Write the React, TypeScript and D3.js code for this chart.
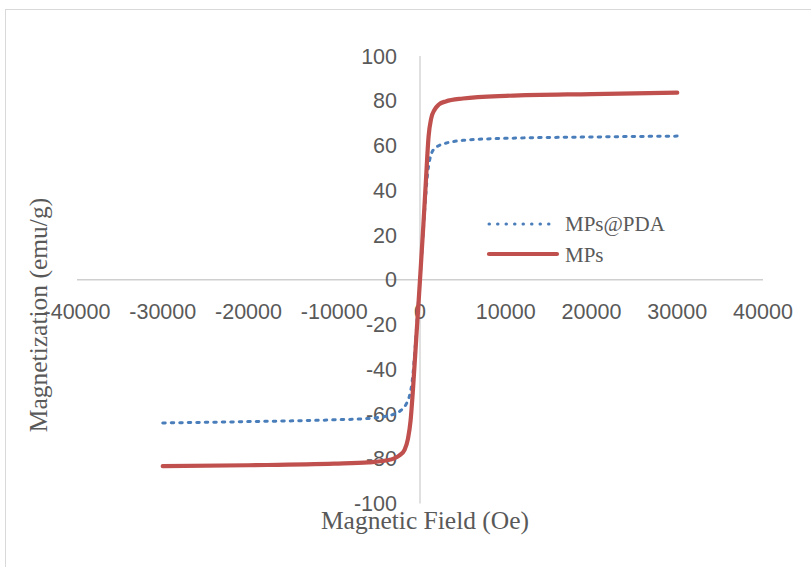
import React from "react";
import * as d3 from "d3";

// Hysteresis loops: field (Oe) vs magnetization (emu/g)
const mpsField = [-30000, -20000, -10000, -6000, -4000, -3000, -2400, -1800, -1400, -1100, -800, -400, 0, 400, 700, 1000, 1300, 1700, 2200, 3000, 5000, 10000, 20000, 30000];
const mpsValues = [-83.3, -82.9, -82.2, -81.6, -80.8, -79.8, -78.5, -76, -71, -63, -48, -24, 0, 25, 45, 64, 72, 76, 78.3, 79.7, 81, 82.2, 83, 83.6];

const pdaField = [-30000, -20000, -10000, -6000, -4000, -3000, -2200, -1600, -1200, -900, -600, -300, 0, 300, 600, 900, 1100, 1400, 2000, 3000, 5000, 10000, 20000, 30000];
const pdaValues = [-64, -63.4, -62.6, -62, -61, -60, -58.3, -55.5, -51.5, -45, -32, -16, 0, 17, 34, 48, 53, 57, 59.5, 61, 62.3, 63.2, 63.8, 64.2];

const xTicks = [-40000, -30000, -20000, -10000, 0, 10000, 20000, 30000, 40000];
const yTicks = [-100, -80, -60, -40, -20, 0, 20, 40, 60, 80, 100];

const seriesNames = ["MPs@PDA", "MPs"];

const W = 811;
const H = 567;

export default function App() {
  const x = d3.scaleLinear().domain([-40000, 40000]).range([77, 763]);
  const y = d3.scaleLinear().domain([-100, 100]).range([503.5, 56]);

  const line = d3
    .line<[number, number]>()
    .x((d) => x(d[0]))
    .y((d) => y(d[1]))
    .curve(d3.curveMonotoneX);

  const mpsPts = mpsField.map((f, i) => [f, mpsValues[i]] as [number, number]);
  const pdaPts = pdaField.map((f, i) => [f, pdaValues[i]] as [number, number]);

  const grey = "#595959";
  const axisGrey = "#cfcfcf";
  const red = "#c0504d";
  const blue = "#4a7ebb";
  const sans = "'Liberation Sans', Arial, sans-serif";
  const serif = "'Liberation Serif', 'Times New Roman', serif";

  return (
    <svg
      width={W}
      height={H}
      style={{ position: "absolute", left: 0, top: 0, background: "#fff" }}
    >
      <rect x={5.5} y={9.5} width={1000} height={800} fill="#fff" stroke="#d9d9d9" strokeWidth={1} />

      {/* axes crossing at the origin */}
      <line x1={x(-40000)} x2={x(40000)} y1={y(0)} y2={y(0)} stroke={axisGrey} strokeWidth={1.3} />
      <line x1={x(0)} x2={x(0)} y1={y(100)} y2={y(-100)} stroke={axisGrey} strokeWidth={1.3} />

      {/* y tick labels */}
      {yTicks.map((t) => (
        <text
          key={"y" + t}
          x={397}
          y={y(t)}
          dy="0.36em"
          textAnchor="end"
          fontFamily={sans}
          fontSize={21.5}
          fill={grey}
        >
          {t}
        </text>
      ))}

      {/* x tick labels */}
      {xTicks.map((t) => (
        <text
          key={"x" + t}
          x={x(t)}
          y={319}
          textAnchor="middle"
          fontFamily={sans}
          fontSize={21.5}
          fill={grey}
        >
          {t}
        </text>
      ))}

      {/* series */}
      <path
        d={line(pdaPts) || ""}
        fill="none"
        stroke={blue}
        strokeWidth={3}
        strokeDasharray="2.5 6"
        strokeLinecap="round"
      />
      <path
        d={line(mpsPts) || ""}
        fill="none"
        stroke={red}
        strokeWidth={4.2}
        strokeLinecap="round"
        strokeLinejoin="round"
      />

      {/* axis titles */}
      <text x={425} y={529} textAnchor="middle" fontFamily={serif} fontSize={25.5} fill={grey}>
        Magnetic Field (Oe)
      </text>
      <text
        transform="translate(47,315) rotate(-90)"
        textAnchor="middle"
        fontFamily={serif}
        fontSize={25.5}
        fill={grey}
      >
        Magnetization (emu/g)
      </text>

      {/* legend */}
      <g>
        <line x1={489} x2={557} y1={224} y2={224} stroke={blue} strokeWidth={3} strokeDasharray="0.5 8" strokeLinecap="round" />
        <text x={565} y={231} fontFamily={serif} fontSize={21} fill={grey}>
          {seriesNames[0]}
        </text>
        <line x1={489} x2={557} y1={254} y2={254} stroke={red} strokeWidth={4.2} strokeLinecap="round" />
        <text x={565} y={262} fontFamily={serif} fontSize={21} fill={grey}>
          {seriesNames[1]}
        </text>
      </g>
    </svg>
  );
}
